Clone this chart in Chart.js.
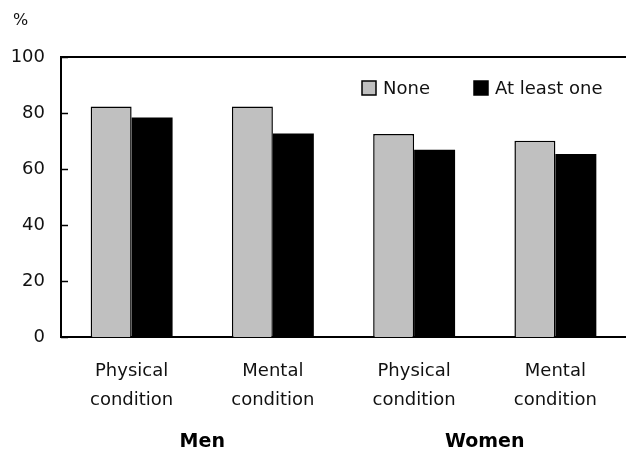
<!DOCTYPE html>
<html>
<head>
<meta charset="utf-8">
<script src="https://cdn.jsdelivr.net/npm/chart.js@4/dist/chart.umd.min.js"></script>
<style>
  html, body { margin: 0; padding: 0; background: #fff; }
  #wrap { width: 626px; height: 450px; position: relative; }
</style>
</head>
<body>
<div id="wrap"><canvas id="c"></canvas></div>
<script>
const categories = [['Physical', 'condition'], ['Mental', 'condition'], ['Physical', 'condition'], ['Mental', 'condition']];
const groups = ['Men', 'Women'];
const seriesNames = ['None', 'At least one'];
const noneValues = [82.3, 82.3, 72.5, 70.1];
const atLeastOneValues = [78.4, 72.7, 66.9, 65.4];
const yTicks = [0, 20, 40, 60, 80, 100];
const unitLabel = '%';

const FONT = '"DejaVu Sans", sans-serif';
const GRAY = '#c0c0c0';
const BLACK = '#000000';

const decor = {
  id: 'decor',
  afterDraw(chart) {
    const ctx = chart.ctx;
    const a = chart.chartArea;
    const y = chart.scales.y;
    ctx.save();
    // top frame line
    ctx.strokeStyle = BLACK;
    ctx.lineWidth = 2;
    ctx.beginPath();
    ctx.moveTo(a.left - 1, a.top);
    ctx.lineTo(a.right, a.top);
    ctx.stroke();
    // inside tick marks on y axis
    ctx.lineWidth = 1.5;
    yTicks.forEach(v => {
      const py = Math.round(y.getPixelForValue(v)) + 0.5;
      ctx.beginPath();
      ctx.moveTo(a.left, py);
      ctx.lineTo(a.left + 7, py);
      ctx.stroke();
    });
    // legend inside plot
    const colors = [GRAY, BLACK];
    const xs = [a.left + 301, a.left + 413];
    const boxY = a.top + 24;
    ctx.font = '18px ' + FONT;
    ctx.textBaseline = 'middle';
    ctx.textAlign = 'left';
    seriesNames.forEach((name, i) => {
      ctx.fillStyle = colors[i];
      ctx.fillRect(xs[i], boxY, 14, 14);
      ctx.strokeStyle = BLACK;
      ctx.lineWidth = 1.5;
      ctx.strokeRect(xs[i], boxY, 14, 14);
      ctx.fillStyle = '#111';
      ctx.fillText(name, xs[i] + 21, boxY + 8);
    });
    // unit label
    ctx.font = '16px ' + FONT;
    ctx.fillText(unitLabel, 13, 21);
    ctx.restore();
  }
};

new Chart(document.getElementById('c'), {
  type: 'bar',
  data: {
    labels: categories,
    datasets: [
      { label: seriesNames[0], data: noneValues, backgroundColor: GRAY, borderColor: BLACK, borderWidth: 1.5 },
      { label: seriesNames[1], data: atLeastOneValues, backgroundColor: BLACK, borderColor: BLACK, borderWidth: 0 }
    ]
  },
  options: {
    responsive: true,
    maintainAspectRatio: false,
    animation: false,
    categoryPercentage: 0.58,
    barPercentage: 1.0,
    layout: { padding: { top: 57, left: 0, right: 0, bottom: 0 } },
    plugins: { legend: { display: false }, tooltip: { enabled: false }, title: { display: false } },
    scales: {
      x: {
        position: 'bottom',
        weight: 0,
        grid: { display: false },
        border: { display: true, color: BLACK, width: 2 },
        ticks: { color: '#111', font: { family: FONT, size: 18, lineHeight: 1.6 }, padding: 12, maxRotation: 0, autoSkip: false },
        afterFit(s) { s.height = 80; }
      },
      xGroup: {
        type: 'category',
        labels: groups,
        position: 'bottom',
        weight: 1,
        offset: true,
        grid: { display: false },
        border: { display: false },
        ticks: { color: BLACK, font: { family: FONT, size: 19, weight: 'bold' }, padding: 6 },
        afterFit(s) { s.height = 33; }
      },
      y: {
        min: 0,
        max: 100,
        afterBuildTicks(s) { s.ticks = yTicks.map(v => ({ value: v })); },
        grid: { display: false },
        border: { display: true, color: BLACK, width: 2 },
        ticks: { color: '#111', font: { family: FONT, size: 18 }, padding: 8 },
        afterFit(s) { s.width = 61; }
      }
    }
  },
  plugins: [decor]
});
</script>
</body>
</html>
